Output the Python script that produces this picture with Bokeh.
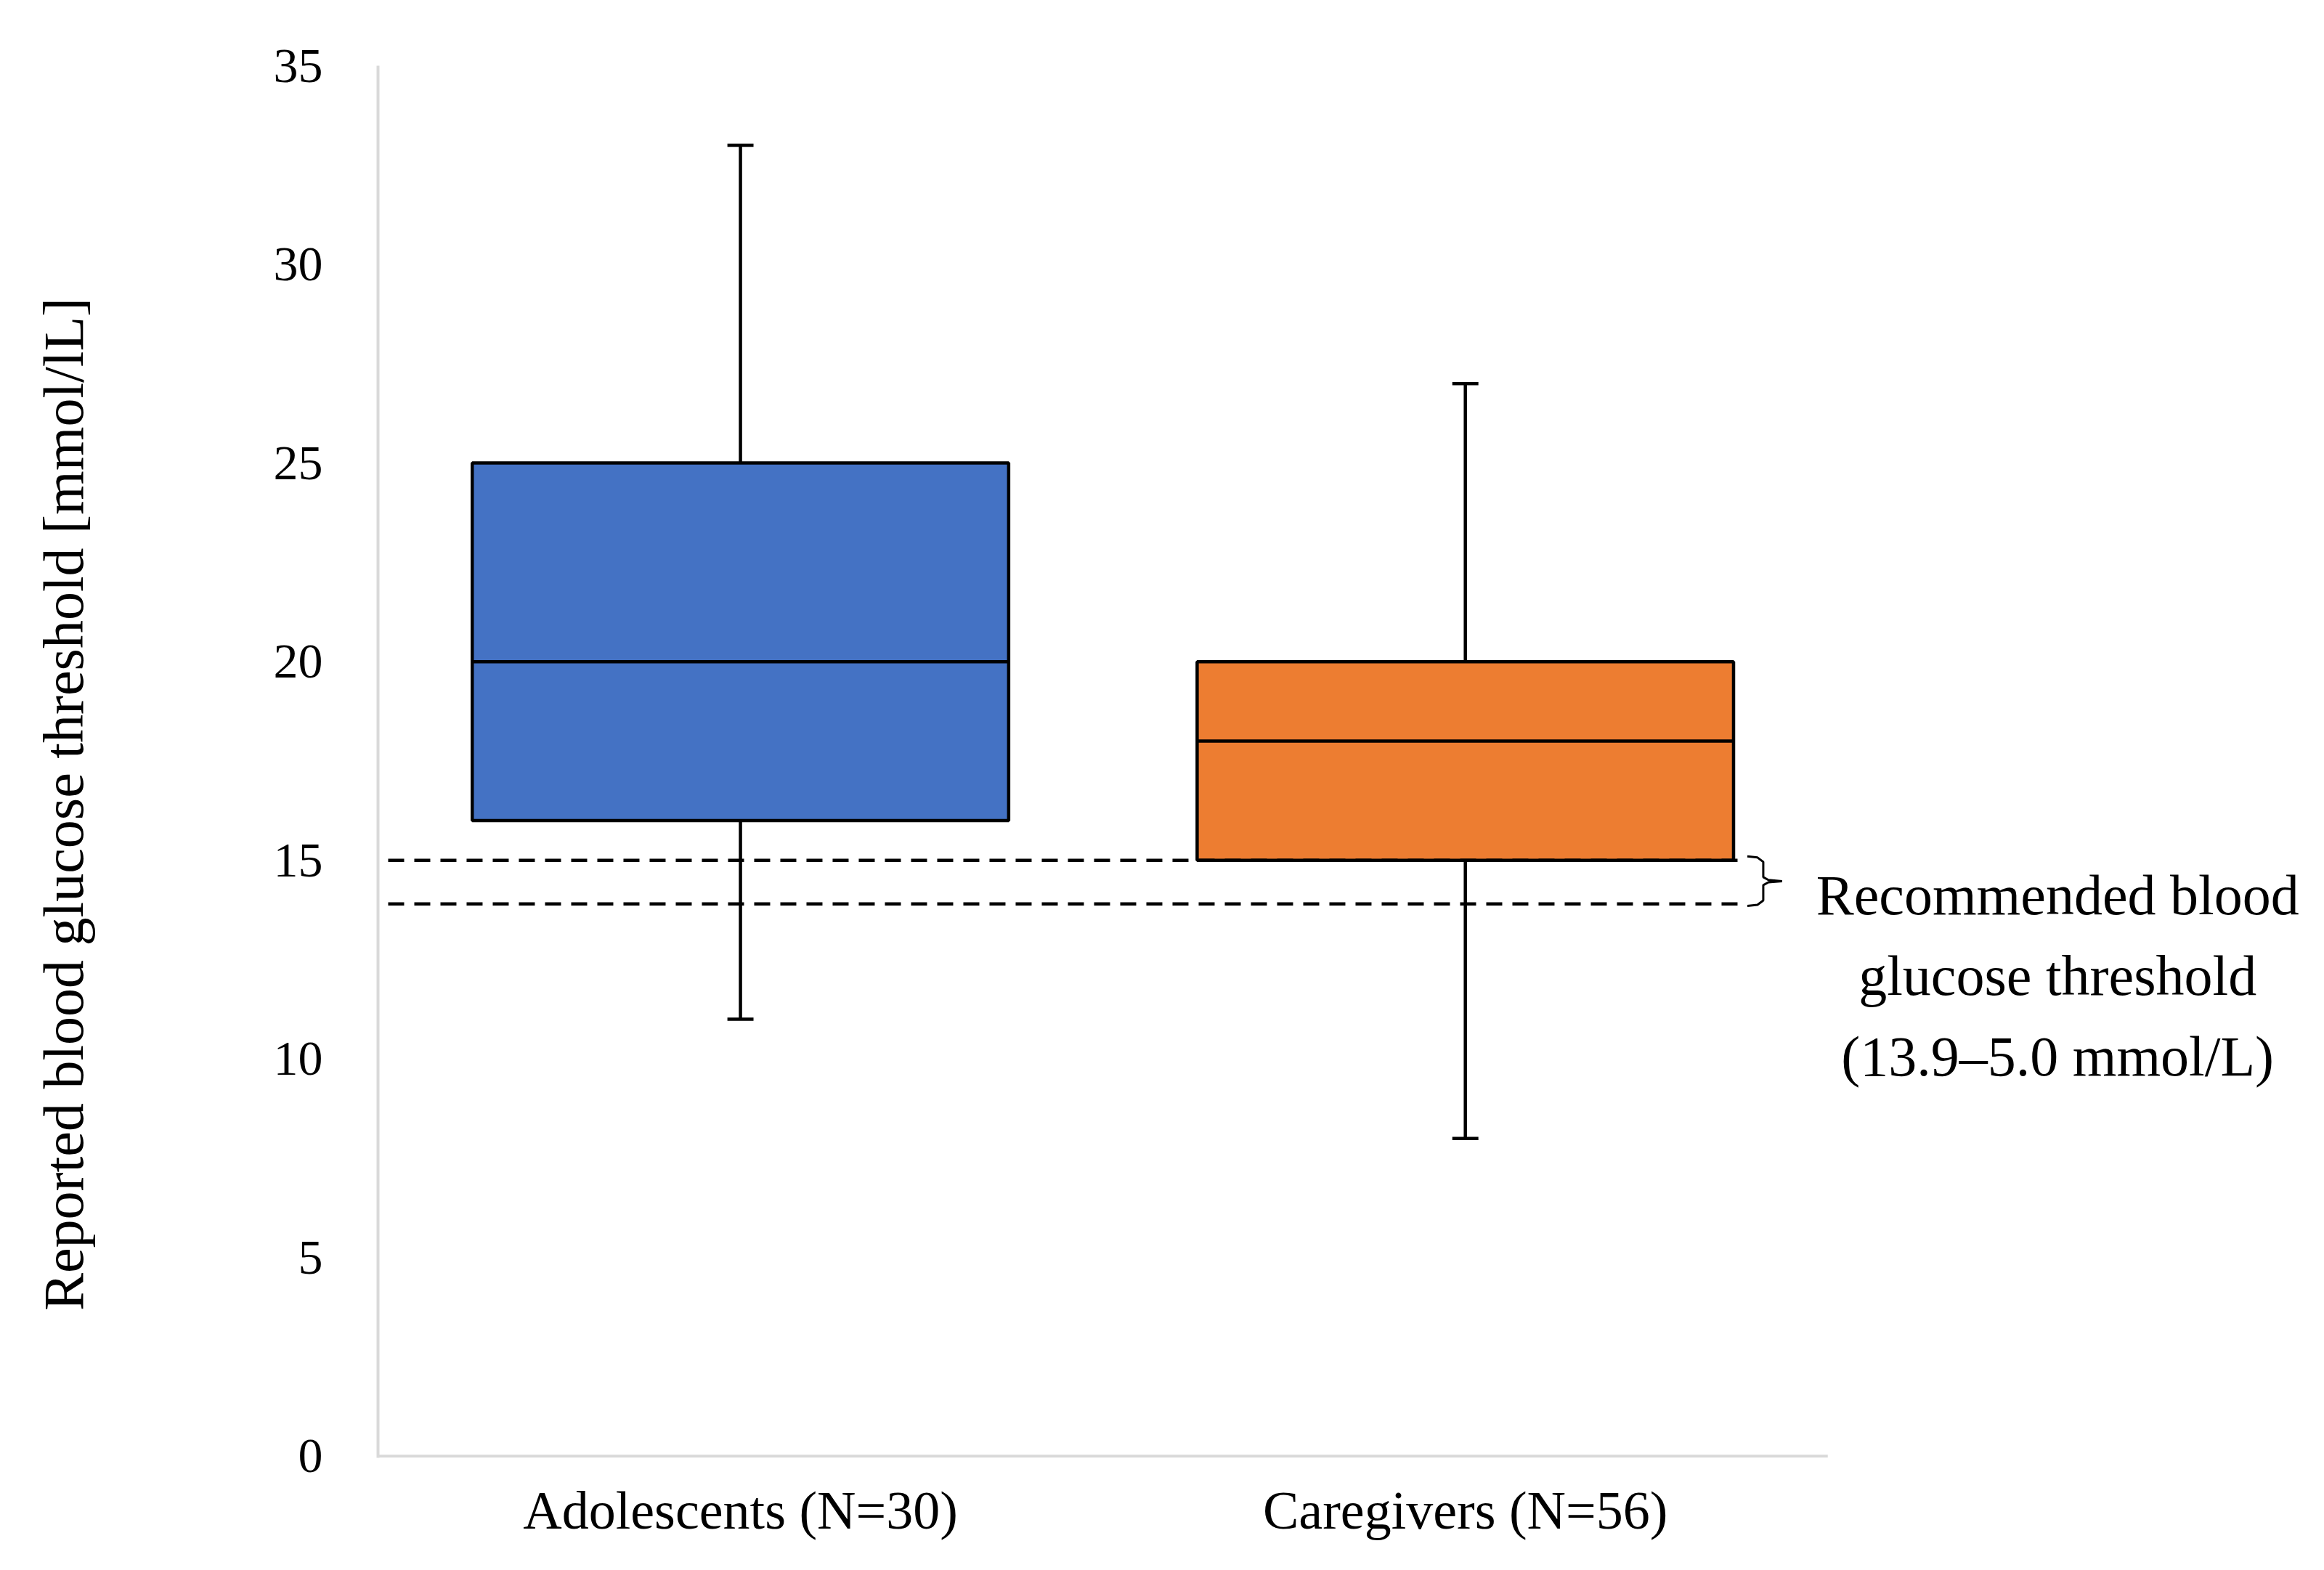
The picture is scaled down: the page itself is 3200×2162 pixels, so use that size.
from bokeh.plotting import figure
from bokeh.models import ColumnDataSource, Range1d, FixedTicker
from bokeh.core.properties import value
from bokeh.embed import file_html
from bokeh.resources import INLINE

# ---- data ----
categories = ["Adolescents (N=30)", "Caregivers (N=56)"]
lower_whisker = [11, 8]
q1 = [16, 15]
median = [20, 18]
q3 = [25, 20]
upper_whisker = [33, 27]
box_colors = ["#4472C4", "#ED7D31"]

threshold_upper = 15.0
threshold_lower = 13.9
annotation_lines = ["Recommended blood", "glucose threshold", "(13.9\u20135.0 mmol/L)"]
y_label = "Reported blood glucose threshold [mmol/lL]"
y_ticks = [0, 5, 10, 15, 20, 25, 30, 35]

FONT = "Liberation Serif"
BOX_W = 0.74
CAP_W = 0.036
N = len(categories)
xpos = [i + 0.5 for i in range(N)]          # category centres on the axis scale

p = figure(width=3184, height=2146, x_range=Range1d(0, N + 0.669),
           y_range=Range1d(-0.04, 35), output_backend="svg", toolbar_location=None,
           min_border_left=520, min_border_right=0, min_border_top=90,
           min_border_bottom=139)
p.outline_line_color = None
p.xgrid.grid_line_color = None
p.ygrid.grid_line_color = None
p.background_fill_color = "white"
p.border_fill_color = "white"

src = ColumnDataSource(dict(x=xpos, lo=lower_whisker, q1=q1, med=median, q3=q3,
                            hi=upper_whisker, color=box_colors,
                            xl_box=[x - BOX_W / 2 for x in xpos],
                            xr_box=[x + BOX_W / 2 for x in xpos],
                            xl_cap=[x - CAP_W / 2 for x in xpos],
                            xr_cap=[x + CAP_W / 2 for x in xpos]))

# x axis baseline across the category area
p.segment(x0=0, y0=0, x1=N, y1=0, line_color="#D9D9D9", line_width=4)

# whiskers
p.segment(x0="x", y0="q3", x1="x", y1="hi", source=src, line_color="black", line_width=4.5)
p.segment(x0="x", y0="q1", x1="x", y1="lo", source=src, line_color="black", line_width=4.5)
p.segment(x0="xl_cap", y0="hi", x1="xr_cap", y1="hi", source=src, line_color="black", line_width=4.5)
p.segment(x0="xl_cap", y0="lo", x1="xr_cap", y1="lo", source=src, line_color="black", line_width=4.5)

# boxes
p.vbar(x="x", width=BOX_W, bottom="q1", top="q3", source=src, fill_color="color",
       line_color="black", line_width=4.5)
p.segment(x0="xl_box", y0="med", x1="xr_box", y1="med", source=src,
          line_color="black", line_width=4.5)

# recommended threshold dashed lines
dash_x0 = xpos[0] - 0.486
dash_x1 = xpos[-1] + 0.376
p.segment(x0=[dash_x0] * 2, y0=[threshold_upper, threshold_lower],
          x1=[dash_x1] * 2, y1=[threshold_upper, threshold_lower],
          line_color="black", line_width=4.5, line_dash="22 14")

# brace
yt, yb = threshold_upper + 0.1, threshold_lower - 0.05
ym = (yt + yb) / 2
c = xpos[-1]
xl, xv, xt = c + 0.389, c + 0.411, c + 0.437
brace_x = [xl, xv - 0.008, xv, xv, xv + 0.007, xt, xv + 0.007, xv, xv, xv - 0.008, xl]
brace_y = [yt, yt - 0.03, yt - 0.14, ym + 0.1, ym + 0.03, ym,
           ym - 0.03, ym - 0.1, yb + 0.14, yb + 0.03, yb]
p.line(x=brace_x, y=brace_y, line_color="black", line_width=3)

# annotation text
ann_x = N + 0.317
p.text(x=[ann_x] * 3, y=[14.13, 12.10, 10.07], text=annotation_lines,
       text_align="center", text_baseline="alphabetic", text_font=value(FONT),
       text_font_size="78px", text_color="black")

# axes
for ax in (p.xaxis[0], p.yaxis[0]):
    ax.major_tick_line_color = None
    ax.minor_tick_line_color = None
    ax.major_tick_out = 0
    ax.major_tick_in = 0
    ax.major_label_text_font = FONT
    ax.major_label_text_color = "black"

p.xaxis.axis_line_color = None
p.xaxis.ticker = FixedTicker(ticks=xpos)
p.xaxis.major_label_overrides = {x: c for x, c in zip(xpos, categories)}
p.xaxis.major_label_text_font_size = "74px"
p.xaxis.major_label_standoff = 31

p.yaxis.axis_line_color = "#D9D9D9"
p.yaxis.axis_line_width = 4
p.yaxis.ticker = FixedTicker(ticks=y_ticks)
p.yaxis.major_label_text_font_size = "68px"
p.yaxis.major_label_standoff = 76
# trailing no-break spaces nudge the visible label down to sit like the original
p.yaxis.axis_label = y_label + "\u00a0" * 6
p.yaxis.axis_label_text_font = FONT
p.yaxis.axis_label_text_font_style = "normal"
p.yaxis.axis_label_text_font_size = "78px"
p.yaxis.axis_label_text_color = "black"
p.yaxis.axis_label_standoff = 243

open("out.html", "w").write(file_html(p, INLINE))
